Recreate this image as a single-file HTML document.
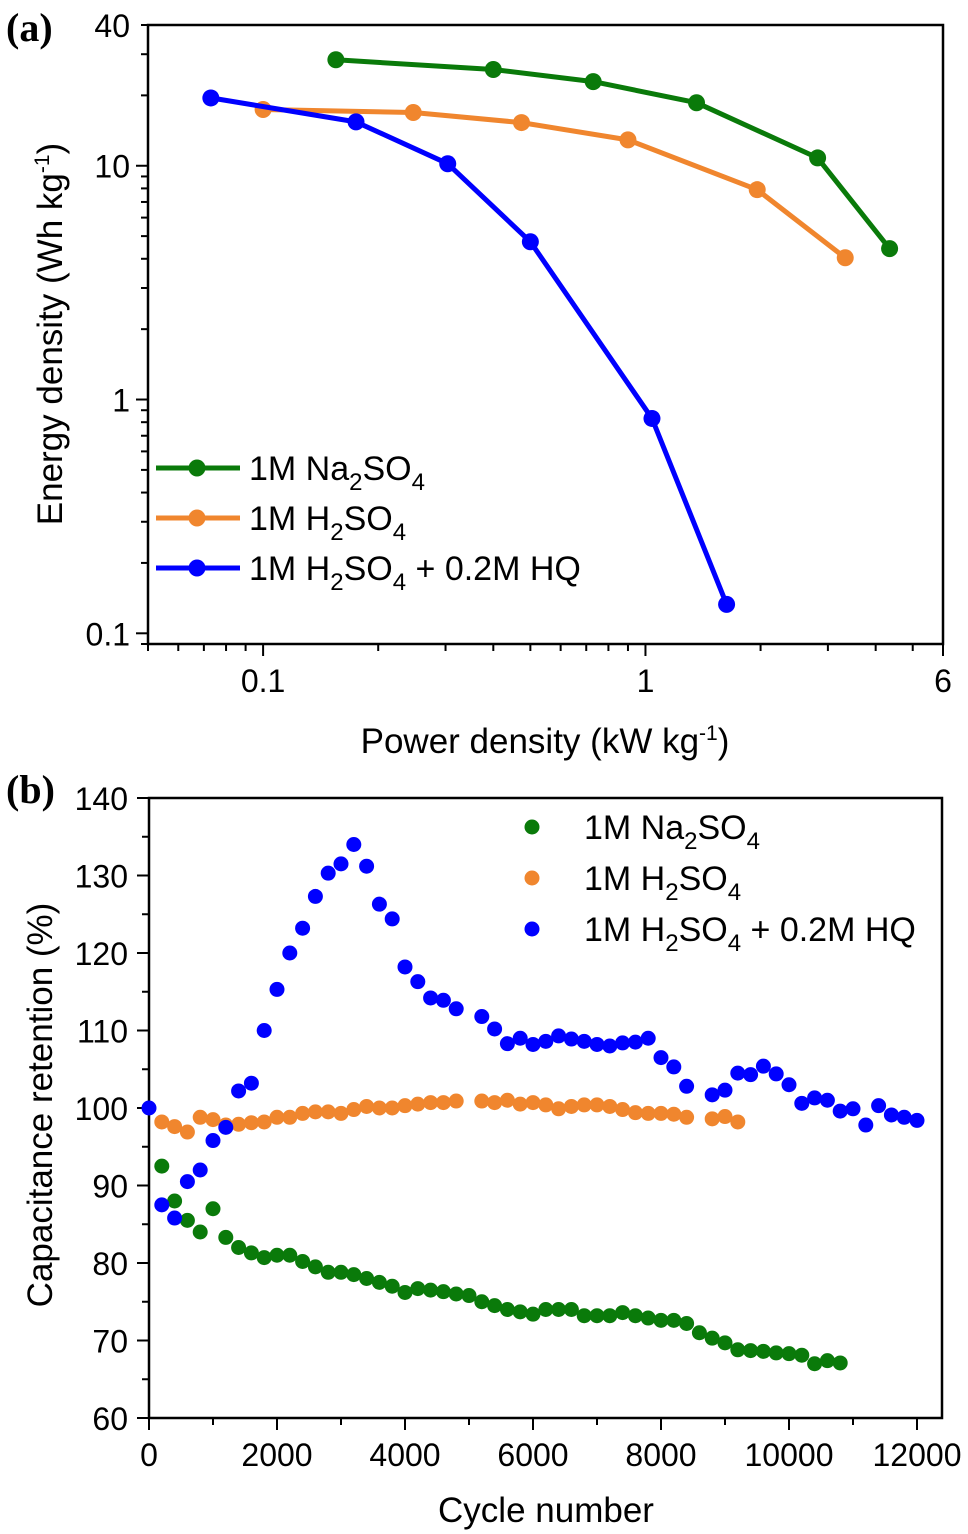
<!DOCTYPE html>
<html><head><meta charset="utf-8"><style>
html,body{margin:0;padding:0;background:#fff;}
svg{display:block;font-family:"Liberation Sans",Arial,sans-serif;}
</style></head><body>
<svg id="chart" width="968" height="1534" viewBox="0 0 968 1534" xmlns="http://www.w3.org/2000/svg">
<text x="6" y="41" font-family="Liberation Serif,serif" font-weight="bold" font-size="40">(a)</text>
<text x="6" y="803" font-family="Liberation Serif,serif" font-weight="bold" font-size="40">(b)</text>
<g id="pa"></g>
<g id="pb"></g>
</svg>
<script>
// Panel (a) data
const aNaX = [0.155, 0.40, 0.73, 1.36, 2.82, 4.35];
const aNaY = [28.4, 25.8, 22.9, 18.6, 10.8, 4.42];
const aHX = [0.1, 0.247, 0.474, 0.90, 1.96, 3.33];
const aHY = [17.4, 16.9, 15.3, 12.9, 7.9, 4.04];
const aHQX = [0.073, 0.175, 0.304, 0.50, 1.04, 1.63];
const aHQY = [19.5, 15.4, 10.2, 4.73, 0.83, 0.133];
const aXTicks = [0.1, 1, 6];
const aXTickLabels = ["0.1", "1", "6"];
const aYTicks = [40, 10, 1, 0.1];
const aYTickLabels = ["40", "10", "1", "0.1"];
// Panel (b) data
const bNaX = [200,400,600,800,1000,1200,1400,1600,1800,2000,2200,2400,2600,2800,3000,3200,3400,3600,3800,4000,4200,4400,4600,4800,5000,5200,5400,5600,5800,6000,6200,6400,6600,6800,7000,7200,7400,7600,7800,8000,8200,8400,8600,8800,9000,9200,9400,9600,9800,10000,10200,10400,10600,10800];
const bNaY = [92.5,88,85.5,84,87,83.3,82,81.3,80.7,81,81,80.2,79.5,78.8,78.8,78.5,78,77.5,77,76.2,76.7,76.5,76.3,76,75.8,75,74.5,74,73.7,73.4,74,74,74,73.2,73.2,73.2,73.6,73.2,72.9,72.6,72.6,72.2,71,70.3,69.7,68.8,68.7,68.6,68.4,68.3,68.1,67,67.4,67.1];
const bHX = [200,400,600,800,1000,1200,1400,1600,1800,2000,2200,2400,2600,2800,3000,3200,3400,3600,3800,4000,4200,4400,4600,4800,5200,5400,5600,5800,6000,6200,6400,6600,6800,7000,7200,7400,7600,7800,8000,8200,8400,8800,9000,9200];
const bHY = [98.2,97.6,96.9,98.8,98.5,97.8,97.9,98.1,98.2,98.8,98.8,99.3,99.5,99.5,99.3,99.8,100.2,100,100,100.3,100.5,100.7,100.7,100.9,100.9,100.7,101,100.5,100.7,100.4,99.9,100.2,100.4,100.4,100.2,99.8,99.4,99.3,99.3,99.2,98.8,98.6,98.9,98.2];
const bHQX = [0,200,400,600,800,1000,1200,1400,1600,1800,2000,2200,2400,2600,2800,3000,3200,3400,3600,3800,4000,4200,4400,4600,4800,5200,5400,5600,5800,6000,6200,6400,6600,6800,7000,7200,7400,7600,7800,8000,8200,8400,8800,9000,9200,9400,9600,9800,10000,10200,10400,10600,10800,11000,11200,11400,11600,11800,12000];
const bHQY = [100,87.5,85.8,90.5,92,95.8,97.5,102.2,103.2,110,115.3,120,123.2,127.3,130.3,131.5,134,131.2,126.3,124.4,118.2,116.3,114.2,113.9,112.8,111.8,110.2,108.3,109,108.2,108.6,109.3,108.9,108.6,108.2,108,108.4,108.5,109,106.5,105.3,102.8,101.7,102.3,104.5,104.3,105.4,104.4,103,100.6,101.3,101,99.6,99.9,97.8,100.3,99.1,98.8,98.4];
const bXTicks = [0,2000,4000,6000,8000,10000,12000];
const bYTicks = [60,70,80,90,100,110,120,130,140];

const NS = "http://www.w3.org/2000/svg";
function mk(parent, tag, attrs, text) {
  const e = document.createElementNS(NS, tag);
  for (const k in attrs) e.setAttribute(k, attrs[k]);
  if (text !== undefined) e.textContent = text;
  parent.appendChild(e);
  return e;
}
const GREEN = "#0a7a0a", ORANGE = "#f0862e", BLUE = "#0000ff";
const TICKFS = 32, TITLEFS = 35, LEGFS = 34;

// ---------- Panel A ----------
const pa = document.getElementById("pa");
const aL = 148, aR = 943, aT = 25, aB = 644;
const axMin = Math.log10(0.05), axMax = Math.log10(6);
const ayMin = Math.log10(0.09), ayMax = Math.log10(40);
function ax(v) { return aL + (Math.log10(v) - axMin) / (axMax - axMin) * (aR - aL); }
function ay(v) { return aB - (Math.log10(v) - ayMin) / (ayMax - ayMin) * (aB - aT); }

let fr = mk(pa, "rect", {x: aL, y: aT, width: aR - aL, height: aB - aT, fill: "none", stroke: "#000", "stroke-width": 2.5});


for (let d = -2; d <= 0; d++) for (let m = 1; m <= 9; m++) {
  const v = m * Math.pow(10, d);
  if (v < 0.05 || v > 6) continue;
  const major = (m === 1);
  const t = mk(pa, "line", {x1: ax(v), x2: ax(v), y1: aB, y2: aB + (major ? 12 : 7), stroke: "#000", "stroke-width": 2});
  
  
}
const t6 = mk(pa, "line", {x1: ax(6), x2: ax(6), y1: aB, y2: aB + 12, stroke: "#000", "stroke-width": 2});


aXTicks.forEach((v, i) => {
  const t = mk(pa, "text", {x: ax(v), y: 692, "font-size": TICKFS, "text-anchor": "middle"}, aXTickLabels[i]);
  
  
});
for (let d = -2; d <= 1; d++) for (let m = 1; m <= 9; m++) {
  const v = m * Math.pow(10, d);
  if (v < 0.09 || v > 40) continue;
  const major = (m === 1);
  const t = mk(pa, "line", {x1: aL, x2: aL - (major ? 12 : 7), y1: ay(v), y2: ay(v), stroke: "#000", "stroke-width": 2});
  
  
}
aYTicks.forEach((v, i) => {
  const t = mk(pa, "text", {x: 130, y: ay(v) + 12, "font-size": TICKFS, "text-anchor": "end"}, aYTickLabels[i]);
  
  
});
const axt = mk(pa, "text", {x: 545, y: 753, "font-size": TITLEFS, "text-anchor": "middle"});
axt.innerHTML = 'Power density (kW kg<tspan dy="-13" font-size="21">-1</tspan><tspan dy="13">)</tspan>';


const ayt = mk(pa, "text", {transform: "translate(62,334) rotate(-90)", "font-size": TITLEFS, "text-anchor": "middle"});
ayt.innerHTML = 'Energy density (Wh kg<tspan dy="-13" font-size="21">-1</tspan><tspan dy="13">)</tspan>';



function lineSeries(xs, ys, color, name) {
  const g = mk(pa, "g", {});
  
  
  const pts = xs.map((x, i) => ax(x).toFixed(1) + "," + ay(ys[i]).toFixed(1)).join(" ");
  const pl = mk(g, "polyline", {points: pts, fill: "none", stroke: color, "stroke-width": 5, "stroke-linejoin": "round"});
  
  
  xs.forEach((x, i) => {
    const c = mk(g, "circle", {cx: ax(x), cy: ay(ys[i]), r: 8.5, fill: color});
    
    
  });
}
lineSeries(aHX, aHY, ORANGE, "series-h2so4");
lineSeries(aHQX, aHQY, BLUE, "series-h2so4-hq");
lineSeries(aNaX, aNaY, GREEN, "series-na2so4");

function subLabel(parent, x, y, parts, name) {
  const t = mk(parent, "text", {x: x, y: y, "font-size": LEGFS});
  t.innerHTML = parts;
  
  
}
const labNa = '1M Na<tspan dy="10" font-size="24">2</tspan><tspan dy="-10">SO</tspan><tspan dy="10" font-size="24">4</tspan>';
const labH = '1M H<tspan dy="10" font-size="24">2</tspan><tspan dy="-10">SO</tspan><tspan dy="10" font-size="24">4</tspan>';
const labHQ = '1M H<tspan dy="10" font-size="24">2</tspan><tspan dy="-10">SO</tspan><tspan dy="10" font-size="24">4</tspan><tspan dy="-10"> + 0.2M HQ</tspan>';
[[468, GREEN, labNa, "legend-entry-na2so4"], [518, ORANGE, labH, "legend-entry-h2so4"], [568, BLUE, labHQ, "legend-entry-h2so4-hq"]].forEach(r => {
  const g = mk(pa, "g", {});
  
  
  mk(g, "line", {x1: 156, x2: 240, y1: r[0], y2: r[0], stroke: r[1], "stroke-width": 5});
  mk(g, "circle", {cx: 197, cy: r[0], r: 8.5, fill: r[1]});
  subLabel(g, 249, r[0] + 12, r[2], r[3] + '-label');
});

// ---------- Panel B ----------
const pb = document.getElementById("pb");
const bL = 149, bR = 942, bT = 798, bB = 1418;
const bx0 = 149, bx1 = 917;
function bx(v) { return bx0 + v / 12000 * (bx1 - bx0); }
function by(v) { return bB - (v - 60) / 80 * (bB - bT); }
const fb = mk(pb, "path", {d: `M${bL},${bB} L${bL},${bT} L${bR},${bT} L${bR},${bB} Z`, fill: "none", stroke: "#000", "stroke-width": 2.5});


for (let v = 0; v <= 12000; v += 1000) {
  const major = v % 2000 === 0;
  const t = mk(pb, "line", {x1: bx(v), x2: bx(v), y1: bB, y2: bB + (major ? 12 : 7), stroke: "#000", "stroke-width": 2});
  
  
}
bXTicks.forEach(v => {
  const t = mk(pb, "text", {x: bx(v), y: 1466, "font-size": TICKFS, "text-anchor": "middle"}, String(v));
  
  
});
for (let v = 60; v <= 140; v += 5) {
  const major = v % 10 === 0;
  const t = mk(pb, "line", {x1: bL, x2: bL - (major ? 12 : 7), y1: by(v), y2: by(v), stroke: "#000", "stroke-width": 2});
  
  
}
bYTicks.forEach(v => {
  const t = mk(pb, "text", {x: 128, y: by(v) + 12, "font-size": TICKFS, "text-anchor": "end"}, String(v));
  
  
});
const bxt = mk(pb, "text", {x: 546, y: 1522, "font-size": TITLEFS, "text-anchor": "middle"}, "Cycle number");


const byt = mk(pb, "text", {transform: "translate(52,1105) rotate(-90)", "font-size": TITLEFS, "text-anchor": "middle"}, "Capacitance retention (%)");



function scatter(xs, ys, color, name) {
  const g = mk(pb, "g", {});
  
  
  xs.forEach((x, i) => {
    const c = mk(g, "circle", {cx: bx(x), cy: by(ys[i]), r: 7.5, fill: color});
    
    
  });
}
scatter(bHX, bHY, ORANGE, "scatter-h2so4");
scatter(bNaX, bNaY, GREEN, "scatter-na2so4");
scatter(bHQX, bHQY, BLUE, "scatter-h2so4-hq");

[[827, GREEN, labNa, "legend-b-na2so4"], [878, ORANGE, labH, "legend-b-h2so4"], [929, BLUE, labHQ, "legend-b-h2so4-hq"]].forEach(r => {
  const g = mk(pb, "g", {});
  
  
  mk(g, "circle", {cx: 532, cy: r[0], r: 7.5, fill: r[1]});
  subLabel(g, 584, r[0] + 12, r[2], r[3] + '-label');
});
</script>
</body></html>
